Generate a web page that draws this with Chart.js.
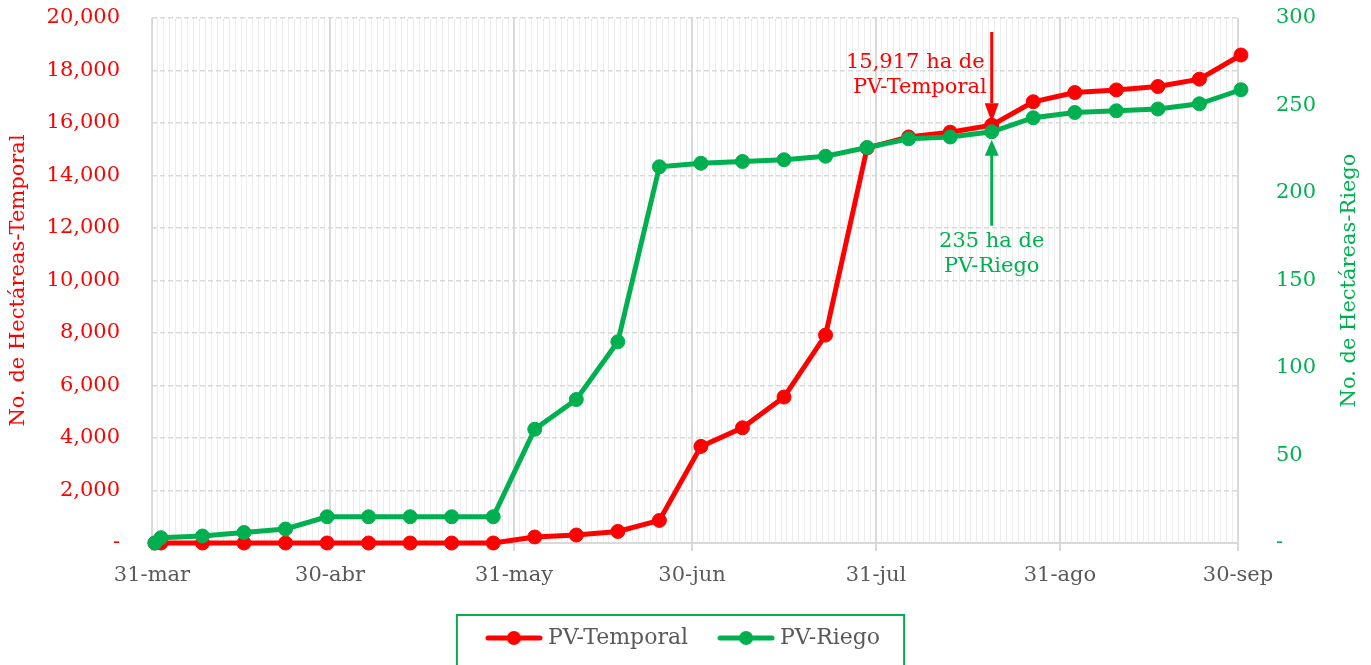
<!DOCTYPE html>
<html><head><meta charset="utf-8">
<script src="https://cdn.jsdelivr.net/npm/chart.js@4/dist/chart.umd.min.js"></script>
<style>html,body{margin:0;padding:0;background:#fff}#wrap{width:1371px;height:665px;position:relative}</style>
</head><body><div id="wrap"><canvas id="c"></canvas></div>
<script>
// ---- data ----
const dates = ['2021-03-31','2021-04-01','2021-04-08','2021-04-15','2021-04-22','2021-04-29',
  '2021-05-06','2021-05-13','2021-05-20','2021-05-27','2021-06-03','2021-06-10','2021-06-17','2021-06-24',
  '2021-07-01','2021-07-08','2021-07-15','2021-07-22','2021-07-29','2021-08-05','2021-08-12','2021-08-19',
  '2021-08-26','2021-09-02','2021-09-09','2021-09-16','2021-09-23','2021-09-30'];
const temporal = [0,0,0,0,0,0,0,0,0,0,230,305,440,860,3680,4390,5560,7920,15050,15470,15650,15917,
  16810,17160,17260,17390,17670,18590];
const riego = [0,3,4,6,8,15,15,15,15,15,65,82,115,215,217,218,219,221,226,231,232,235,243,246,247,248,251,259];
const monthTickDates = ['2021-03-31','2021-04-30','2021-05-31','2021-06-30','2021-07-31','2021-08-31','2021-09-30'];
const monthLabels = ['31-mar','30-abr','31-may','30-jun','31-jul','31-ago','30-sep'];
const leftTickStep = 2000, leftMax = 20000, rightTickStep = 50, rightMax = 300;
const highlightDate = '2021-08-19';
const leftTitle = 'No. de Hectáreas-Temporal', rightTitle = 'No. de Hectáreas-Riego';

const RED = '#FF0000', GREEN = '#00B050', GRAY = '#595959', FONT = 'DejaVu Serif';
const base = Date.UTC(2021,2,31);
function dayIndex(iso){ const [y,m,d] = iso.split('-').map(Number); return Math.round((Date.UTC(y,m-1,d)-base)/86400000); }
// each observation is placed at the middle of its day slot
const days = dates.map(d => dayIndex(d) + 0.5);
const monthTickDays = monthTickDates.map(dayIndex);
const xMax = monthTickDays[monthTickDays.length-1];
const isMonth = v => monthTickDays.indexOf(v) >= 0;

function legendIcon(color){
  const c = document.createElement('canvas'); c.width = 58; c.height = 18;
  const g = c.getContext('2d');
  g.strokeStyle = color; g.lineWidth = 5; g.lineCap = 'round';
  g.beginPath(); g.moveTo(3,9); g.lineTo(55,9); g.stroke();
  g.fillStyle = color; g.beginPath(); g.arc(29,9,7,0,Math.PI*2); g.fill();
  return c;
}

const annotate = {
  id: 'annotate',
  afterDatasetsDraw(chart){
    const ctx = chart.ctx, xs = chart.scales.x, y = chart.scales.y, y2 = chart.scales.y2;
    const i = dates.indexOf(highlightDate);
    const px = xs.getPixelForValue(days[i]);
    const pyR = y.getPixelForValue(temporal[i]);
    const pyG = y2.getPixelForValue(riego[i]);
    ctx.save();
    ctx.strokeStyle = RED; ctx.fillStyle = RED; ctx.lineWidth = 3;
    ctx.beginPath(); ctx.moveTo(px, chart.chartArea.top + 14); ctx.lineTo(px, pyR - 22); ctx.stroke();
    ctx.beginPath(); ctx.moveTo(px-7, pyR-22); ctx.lineTo(px+7, pyR-22); ctx.lineTo(px, pyR-3); ctx.closePath(); ctx.fill();
    ctx.strokeStyle = GREEN; ctx.fillStyle = GREEN;
    ctx.beginPath(); ctx.moveTo(px, pyG + 94); ctx.lineTo(px, pyG + 22); ctx.stroke();
    ctx.beginPath(); ctx.moveTo(px-7, pyG+24); ctx.lineTo(px+7, pyG+24); ctx.lineTo(px, pyG+8); ctx.closePath(); ctx.fill();
    ctx.font = '21px "' + FONT + '"'; ctx.textBaseline = 'middle';
    ctx.fillStyle = RED; ctx.textAlign = 'right';
    ctx.fillText(temporal[i].toLocaleString('en-US') + ' ha de', px - 7, pyR - 63);
    ctx.fillText('PV-Temporal', px - 5, pyR - 38);
    ctx.fillStyle = GREEN; ctx.textAlign = 'center';
    ctx.fillText(riego[i] + ' ha de', px, pyG + 110);
    ctx.fillText('PV-Riego', px, pyG + 135);
    ctx.restore();
  },
  afterDraw(chart){
    const ctx = chart.ctx;
    const ca = chart.chartArea;
    ctx.save();
    ctx.translate(1350, (ca.top + ca.bottom) / 2);
    ctx.rotate(-Math.PI / 2);
    ctx.font = '21px "' + FONT + '"'; ctx.fillStyle = GREEN;
    ctx.textAlign = 'center'; ctx.textBaseline = 'middle';
    ctx.fillText(rightTitle, 0, 0);
    ctx.restore();
    const lg = chart.legend;
    if (!lg || !lg.legendHitBoxes || !lg.legendHitBoxes.length) return;
    const hb = lg.legendHitBoxes;
    const l = hb[0].left - 34, r = hb[hb.length-1].left + hb[hb.length-1].width + 24;
    const cy = hb[0].top + hb[0].height / 2;
    ctx.save();
    ctx.strokeStyle = GREEN; ctx.lineWidth = 2;
    ctx.strokeRect(l, cy - 23, r - l, 80);
    ctx.restore();
  }
};

new Chart(document.getElementById('c'), {
  type: 'line',
  data: {
    datasets: [
      { label: 'PV-Temporal', data: days.map((d,k)=>({x:d, y:temporal[k]})), yAxisID: 'y', xAxisID: 'x',
        borderColor: RED, backgroundColor: RED, borderWidth: 5, pointRadius: 7, pointHoverRadius: 7,
        pointBackgroundColor: RED, pointBorderColor: RED, pointBorderWidth: 1, tension: 0, order: 1,
        pointStyle: 'circle', clip: false },
      { label: 'PV-Riego', data: days.map((d,k)=>({x:d, y:riego[k]})), yAxisID: 'y2', xAxisID: 'x',
        borderColor: GREEN, backgroundColor: GREEN, borderWidth: 5, pointRadius: 7, pointHoverRadius: 7,
        pointBackgroundColor: GREEN, pointBorderColor: GREEN, pointBorderWidth: 1, tension: 0, order: 0,
        pointStyle: 'circle', clip: false }
    ]
  },
  options: {
    responsive: true, maintainAspectRatio: false, animation: false,
    layout: { padding: { top: 18, left: 0, right: 0, bottom: 6 } },
    plugins: {
      tooltip: { enabled: false },
      legend: {
        position: 'bottom',
        labels: {
          usePointStyle: true, pointStyleWidth: 46, padding: 35,
          font: { family: FONT, size: 22 }, color: GRAY,
          sort: (a,b) => a.datasetIndex - b.datasetIndex,
          generateLabels: (chart) => chart.data.datasets.map((ds, i) => ({
            text: ds.label, datasetIndex: i, pointStyle: legendIcon(ds.borderColor),
            fillStyle: ds.borderColor, strokeStyle: ds.borderColor, lineWidth: 0, fontColor: GRAY
          }))
        }
      }
    },
    scales: {
      x: {
        type: 'linear', position: 'bottom', min: 0, max: xMax,
        afterBuildTicks: s => { s.ticks = Array.from({length: xMax + 1}, (_, k) => ({ value: k })); },
        afterFit: s => { s.height = 49; },
        ticks: { autoSkip: false, maxRotation: 0, minRotation: 0, padding: 12, color: GRAY, font: { family: FONT, size: 21 },
          callback: v => isMonth(v) ? monthLabels[monthTickDays.indexOf(v)] : '' },
        grid: {
          color: c => isMonth(c.tick.value) ? '#d9d9d9' : '#ededed',
          lineWidth: c => isMonth(c.tick.value) ? 2 : 1,
          tickColor: c => isMonth(c.tick.value) ? '#d9d9d9' : 'rgba(0,0,0,0)',
          tickLength: 8, drawTicks: true
        },
        border: { color: '#d9d9d9', width: 2 }
      },
      y: {
        position: 'left', min: 0, max: leftMax,
        afterFit: s => { s.width = 152; },
        ticks: { stepSize: leftTickStep, padding: 0, color: RED, font: { family: FONT, size: 21 },
          callback: v => v === 0 ? '-' : v.toLocaleString('en-US') },
        grid: { color: '#d9d9d9', lineWidth: 1.5, drawTicks: true, tickLength: 32, tickColor: 'rgba(0,0,0,0)' },
        border: { display: false, dash: [5, 3] },
        title: { display: true, text: leftTitle, color: RED, font: { family: FONT, size: 21 },
          padding: { top: 6, bottom: 0 } }
      },
      y2: {
        position: 'right', min: 0, max: rightMax,
        afterFit: s => { s.width = 133; },
        ticks: { stepSize: rightTickStep, padding: 0, color: GREEN, font: { family: FONT, size: 21 },
          callback: v => v === 0 ? '-' : String(v) },
        grid: { drawOnChartArea: false, drawTicks: true, tickLength: 38, tickColor: 'rgba(0,0,0,0)' },
        border: { display: false }
      }
    }
  },
  plugins: [annotate]
});
</script></body></html>
